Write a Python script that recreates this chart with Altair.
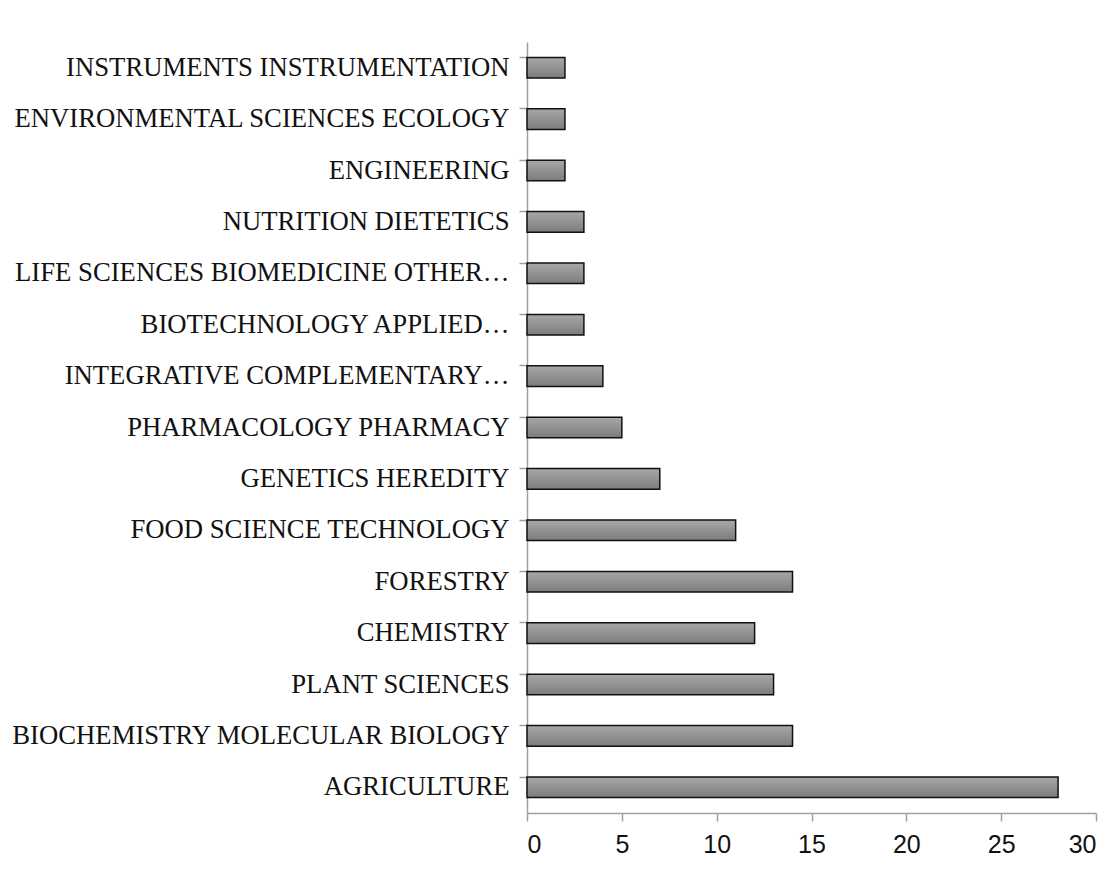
import altair as alt
import pandas as pd

categories = [
    "INSTRUMENTS INSTRUMENTATION",
    "ENVIRONMENTAL SCIENCES ECOLOGY",
    "ENGINEERING",
    "NUTRITION DIETETICS",
    "LIFE SCIENCES BIOMEDICINE OTHER…",
    "BIOTECHNOLOGY APPLIED…",
    "INTEGRATIVE COMPLEMENTARY…",
    "PHARMACOLOGY PHARMACY",
    "GENETICS HEREDITY",
    "FOOD SCIENCE TECHNOLOGY",
    "FORESTRY",
    "CHEMISTRY",
    "PLANT SCIENCES",
    "BIOCHEMISTRY MOLECULAR BIOLOGY",
    "AGRICULTURE",
]
values = [2, 2, 2, 3, 3, 3, 4, 5, 7, 11, 14, 12, 13, 14, 28]
x_ticks = [0, 5, 10, 15, 20, 25, 30]

df = pd.DataFrame({"category": categories, "value": values})

gradient = alt.Gradient(
    gradient="linear",
    stops=[
        alt.GradientStop(color="#a8a8a8", offset=0),
        alt.GradientStop(color="#7c7c7c", offset=1),
    ],
    x1=0, x2=0, y1=0, y2=1,
)

chart = (
    alt.Chart(df)
    .mark_bar(color=gradient, stroke="#111111", strokeWidth=1.5)
    .encode(
        x=alt.X(
            "value:Q",
            scale=alt.Scale(domain=[0, 30], nice=False),
            axis=alt.Axis(
                values=x_ticks,
                title=None,
                grid=False,
                domainColor="#a0a0a0",
                domainWidth=1.5,
                tickColor="#a0a0a0",
                tickWidth=1.5,
                tickSize=8,
                labelFont="Liberation Sans Narrow, Liberation Sans",
                labelFontSize=25,
                labelColor="#111111",
                labelPadding=11,
            ),
        ),
        y=alt.Y(
            "category:N",
            sort=categories,
            scale=alt.Scale(paddingInner=0.6, paddingOuter=0.3),
            axis=alt.Axis(
                title=None,
                domainColor="#a0a0a0",
                domainWidth=1.5,
                tickColor="#a0a0a0",
                tickWidth=1.5,
                tickSize=8,
                bandPosition=0,
                labelFont="Liberation Serif",
                labelFontSize=26.7,
                labelColor="#111111",
                labelPadding=10,
                labelLimit=600,
            ),
        ),
    )
    .properties(
        width=569,
        height=771,
        autosize=alt.AutoSizeParams(type="none"),
        padding={"left": 519, "top": 34, "right": 12, "bottom": 52},
    )
    .configure_view(stroke=None)
)

chart.save("out.html", embed_options={"renderer": "svg", "actions": False})
